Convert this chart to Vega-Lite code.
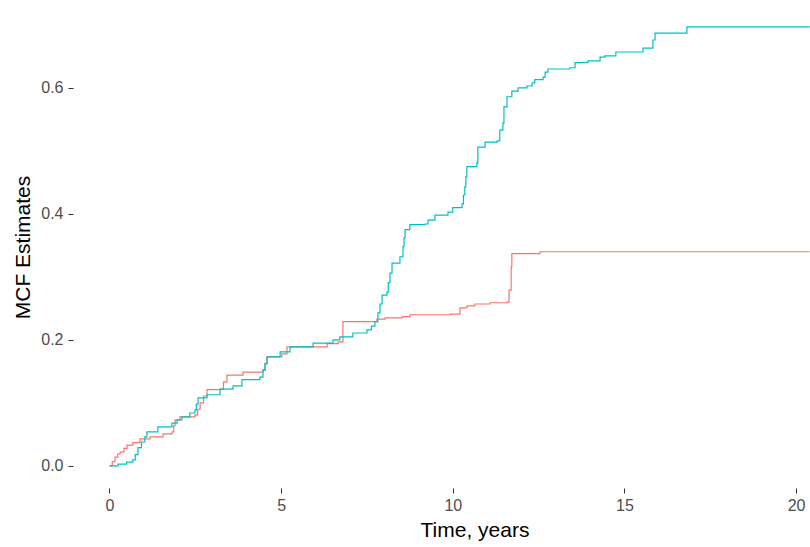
{
  "$schema": "https://vega.github.io/schema/vega-lite/v6.json",
  "width": 737,
  "height": 482,
  "autosize": {"type": "none"},
  "padding": {"left": 73, "top": 6, "right": 0, "bottom": 59},
  "background": "white",
  "config": {
    "view": {"stroke": null},
    "font": "Liberation Sans",
    "axis": {
      "domain": false,
      "grid": false,
      "tickColor": "#333333",
      "tickSize": 5,
      "tickWidth": 1,
      "labelColor": "#4D4D4D",
      "labelFontSize": 16,
      "labelFont": "Liberation Sans",
      "titleFont": "Liberation Sans",
      "titleFontSize": 21,
      "titleFontWeight": "normal",
      "titleColor": "#000000"
    }
  },
  "data": {
    "values": [
      {"g": "A", "t": 0, "v": 0},
      {"g": "A", "t": 0.08, "v": 0.007},
      {"g": "A", "t": 0.16, "v": 0.014},
      {"g": "A", "t": 0.24, "v": 0.019},
      {"g": "A", "t": 0.31, "v": 0.022},
      {"g": "A", "t": 0.42, "v": 0.028},
      {"g": "A", "t": 0.51, "v": 0.033},
      {"g": "A", "t": 0.68, "v": 0.037},
      {"g": "A", "t": 0.89, "v": 0.043},
      {"g": "A", "t": 1.18, "v": 0.046},
      {"g": "A", "t": 1.56, "v": 0.051},
      {"g": "A", "t": 1.82, "v": 0.054},
      {"g": "A", "t": 1.87, "v": 0.064},
      {"g": "A", "t": 1.91, "v": 0.073},
      {"g": "A", "t": 2.05, "v": 0.078},
      {"g": "A", "t": 2.49, "v": 0.081},
      {"g": "A", "t": 2.57, "v": 0.09},
      {"g": "A", "t": 2.64, "v": 0.1},
      {"g": "A", "t": 2.74, "v": 0.111},
      {"g": "A", "t": 2.84, "v": 0.121},
      {"g": "A", "t": 3.22, "v": 0.122},
      {"g": "A", "t": 3.32, "v": 0.133},
      {"g": "A", "t": 3.42, "v": 0.144},
      {"g": "A", "t": 3.89, "v": 0.149},
      {"g": "A", "t": 4.47, "v": 0.152},
      {"g": "A", "t": 4.53, "v": 0.163},
      {"g": "A", "t": 4.59, "v": 0.173},
      {"g": "A", "t": 5.02, "v": 0.178},
      {"g": "A", "t": 5.17, "v": 0.189},
      {"g": "A", "t": 6.34, "v": 0.194},
      {"g": "A", "t": 6.66, "v": 0.197},
      {"g": "A", "t": 6.8, "v": 0.229},
      {"g": "A", "t": 7.79, "v": 0.233},
      {"g": "A", "t": 8.03, "v": 0.235},
      {"g": "A", "t": 8.52, "v": 0.237},
      {"g": "A", "t": 8.75, "v": 0.24},
      {"g": "A", "t": 9.92, "v": 0.241},
      {"g": "A", "t": 10.21, "v": 0.251},
      {"g": "A", "t": 10.41, "v": 0.254},
      {"g": "A", "t": 10.64, "v": 0.257},
      {"g": "A", "t": 11.08, "v": 0.259},
      {"g": "A", "t": 11.58, "v": 0.26},
      {"g": "A", "t": 11.64, "v": 0.279},
      {"g": "A", "t": 11.7, "v": 0.316},
      {"g": "A", "t": 11.72, "v": 0.337},
      {"g": "A", "t": 12.54, "v": 0.34},
      {"g": "A", "t": 20.4, "v": 0.34},
      {"g": "B", "t": 0, "v": 0},
      {"g": "B", "t": 0.25, "v": 0.003},
      {"g": "B", "t": 0.5, "v": 0.006},
      {"g": "B", "t": 0.68, "v": 0.0095},
      {"g": "B", "t": 0.75, "v": 0.018},
      {"g": "B", "t": 0.83, "v": 0.029},
      {"g": "B", "t": 0.93, "v": 0.038},
      {"g": "B", "t": 1.03, "v": 0.046},
      {"g": "B", "t": 1.09, "v": 0.054},
      {"g": "B", "t": 1.41, "v": 0.062},
      {"g": "B", "t": 1.82, "v": 0.068},
      {"g": "B", "t": 1.97, "v": 0.073},
      {"g": "B", "t": 2.11, "v": 0.078},
      {"g": "B", "t": 2.34, "v": 0.084},
      {"g": "B", "t": 2.49, "v": 0.089},
      {"g": "B", "t": 2.53, "v": 0.098},
      {"g": "B", "t": 2.58, "v": 0.108},
      {"g": "B", "t": 2.84, "v": 0.113},
      {"g": "B", "t": 3.22, "v": 0.122},
      {"g": "B", "t": 3.6, "v": 0.127},
      {"g": "B", "t": 3.86, "v": 0.137},
      {"g": "B", "t": 4.38, "v": 0.141},
      {"g": "B", "t": 4.47, "v": 0.152},
      {"g": "B", "t": 4.53, "v": 0.162},
      {"g": "B", "t": 4.59, "v": 0.173},
      {"g": "B", "t": 4.97, "v": 0.181},
      {"g": "B", "t": 5.26, "v": 0.189},
      {"g": "B", "t": 5.93, "v": 0.195},
      {"g": "B", "t": 6.51, "v": 0.2},
      {"g": "B", "t": 6.71, "v": 0.205},
      {"g": "B", "t": 7.09, "v": 0.211},
      {"g": "B", "t": 7.5, "v": 0.216},
      {"g": "B", "t": 7.63, "v": 0.222},
      {"g": "B", "t": 7.73, "v": 0.229},
      {"g": "B", "t": 7.82, "v": 0.243},
      {"g": "B", "t": 7.88, "v": 0.257},
      {"g": "B", "t": 7.94, "v": 0.271},
      {"g": "B", "t": 8.08, "v": 0.276},
      {"g": "B", "t": 8.12, "v": 0.291},
      {"g": "B", "t": 8.17, "v": 0.306},
      {"g": "B", "t": 8.23, "v": 0.322},
      {"g": "B", "t": 8.46, "v": 0.332},
      {"g": "B", "t": 8.55, "v": 0.348},
      {"g": "B", "t": 8.58, "v": 0.362},
      {"g": "B", "t": 8.61, "v": 0.375},
      {"g": "B", "t": 8.75, "v": 0.383},
      {"g": "B", "t": 9.19, "v": 0.384},
      {"g": "B", "t": 9.28, "v": 0.39},
      {"g": "B", "t": 9.48, "v": 0.398},
      {"g": "B", "t": 9.86, "v": 0.403},
      {"g": "B", "t": 10.0, "v": 0.41},
      {"g": "B", "t": 10.27, "v": 0.416},
      {"g": "B", "t": 10.31, "v": 0.43},
      {"g": "B", "t": 10.35, "v": 0.443},
      {"g": "B", "t": 10.38, "v": 0.459},
      {"g": "B", "t": 10.41, "v": 0.475},
      {"g": "B", "t": 10.7, "v": 0.481},
      {"g": "B", "t": 10.73, "v": 0.506},
      {"g": "B", "t": 10.94, "v": 0.514},
      {"g": "B", "t": 11.29, "v": 0.516},
      {"g": "B", "t": 11.37, "v": 0.533},
      {"g": "B", "t": 11.46, "v": 0.544},
      {"g": "B", "t": 11.49, "v": 0.57},
      {"g": "B", "t": 11.58, "v": 0.586},
      {"g": "B", "t": 11.72, "v": 0.595},
      {"g": "B", "t": 11.9, "v": 0.6},
      {"g": "B", "t": 12.16, "v": 0.603},
      {"g": "B", "t": 12.31, "v": 0.608},
      {"g": "B", "t": 12.39, "v": 0.613},
      {"g": "B", "t": 12.63, "v": 0.617},
      {"g": "B", "t": 12.69, "v": 0.625},
      {"g": "B", "t": 12.77, "v": 0.63},
      {"g": "B", "t": 13.41, "v": 0.632},
      {"g": "B", "t": 13.56, "v": 0.64},
      {"g": "B", "t": 13.94, "v": 0.643},
      {"g": "B", "t": 14.29, "v": 0.649},
      {"g": "B", "t": 14.43, "v": 0.651},
      {"g": "B", "t": 14.75, "v": 0.657},
      {"g": "B", "t": 15.54, "v": 0.663},
      {"g": "B", "t": 15.83, "v": 0.676},
      {"g": "B", "t": 15.89, "v": 0.687},
      {"g": "B", "t": 16.82, "v": 0.697},
      {"g": "B", "t": 20.4, "v": 0.697}
    ]
  },
  "mark": {"type": "line", "interpolate": "step-after", "strokeWidth": 1.2, "clip": true},
  "encoding": {
    "x": {
      "field": "t",
      "type": "quantitative",
      "scale": {"domain": [-1.063, 20.405], "nice": false, "zero": false},
      "axis": {"values": [0, 5, 10, 15, 20], "title": "Time, years", "labelPadding": 4, "titlePadding": 6, "titleX": 401.5}
    },
    "y": {
      "field": "v",
      "type": "quantitative",
      "scale": {"domain": [-0.035, 0.73], "nice": false, "zero": false},
      "axis": {"values": [0, 0.2, 0.4, 0.6], "format": ".1f", "title": "MCF Estimates", "labelPadding": 5, "titlePadding": 7}
    },
    "color": {
      "field": "g",
      "type": "nominal",
      "scale": {"domain": ["A", "B"], "range": ["#F8766D", "#00BFC4"]},
      "legend": null
    },
    "order": {"field": "t", "type": "quantitative"}
  }
}
